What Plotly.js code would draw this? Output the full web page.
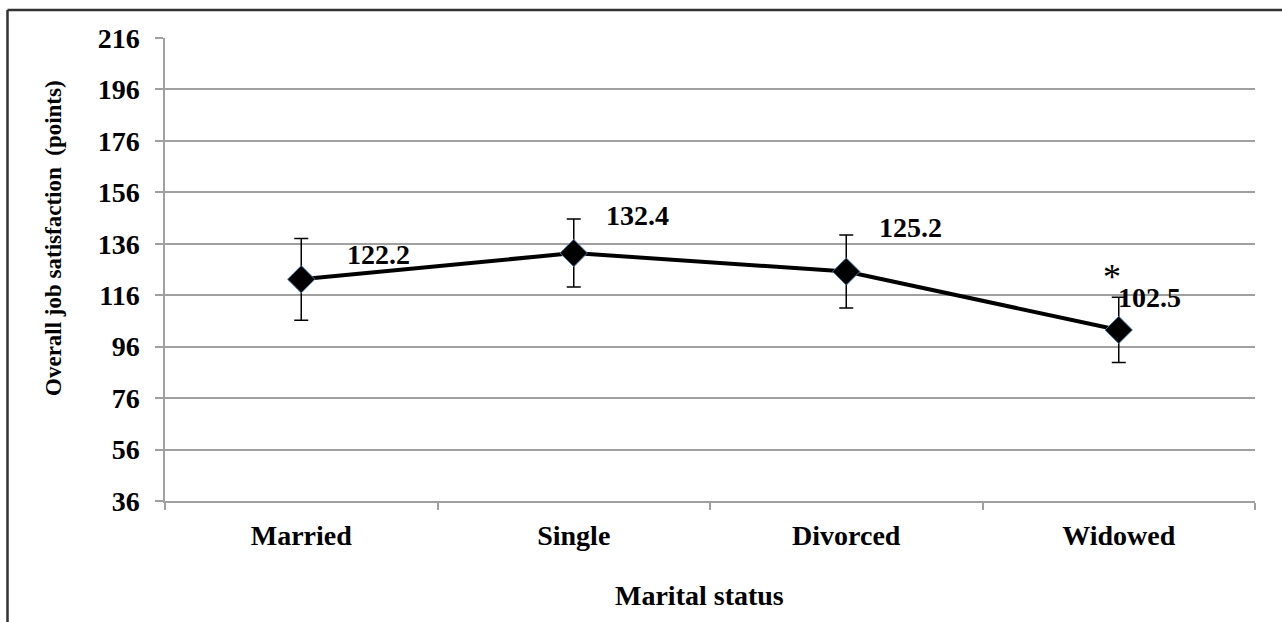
<!DOCTYPE html>
<html>
<head>
<meta charset="utf-8">
<script src="https://cdn.plot.ly/plotly-3.0.1.min.js"></script>
</head>
<body style="margin:0;background:#ffffff">
<div id="chart" style="width:1282px;height:622px"></div>
<script>
const categories = ["Married", "Single", "Divorced", "Widowed"];
const meanValues = [122.2, 132.4, 125.2, 102.5];
const errorValues = [15.9, 13.2, 14.2, 12.7];
const valueLabels = ["122.2", "132.4", "125.2", "102.5"];
const yTickValues = [36, 56, 76, 96, 116, 136, 156, 176, 196, 216];
const significanceMarks = ["", "", "", "*"];
const xTitle = "Marital status";
const yTitle = "Overall job satisfaction&nbsp;&nbsp;(points)";

const FAM = 'Liberation Serif';

const trace = {
  type: 'scatter',
  mode: 'lines+markers',
  x: categories,
  y: meanValues,
  line: { color: '#000000', width: 4 },
  marker: { symbol: 'diamond', size: 21, color: '#000000', line: { color: '#4a78a8', width: 1 } },
  error_y: { type: 'data', array: errorValues, visible: true, color: '#000000', thickness: 1.5, width: 7 },
  hoverinfo: 'skip',
  cliponaxis: false
};

const labelShifts = [[77, 25], [64, 38], [64, 44], [31, 32]];
const annotations = [];
categories.forEach((c, i) => {
  annotations.push({
    x: c, y: meanValues[i], xref: 'x', yref: 'y',
    text: valueLabels[i], showarrow: false,
    xshift: labelShifts[i][0], yshift: labelShifts[i][1],
    font: { family: FAM, size: 28, color: '#000000', weight: 'bold' }
  });
  if (significanceMarks[i]) {
    annotations.push({
      x: c, y: meanValues[i], xref: 'x', yref: 'y',
      text: significanceMarks[i], showarrow: false,
      xshift: -7, yshift: 53,
      font: { family: FAM, size: 36, color: '#000000' }
    });
  }
});
annotations.push({
  xref: 'paper', yref: 'paper', x: 0.4908, y: -0.205,
  text: xTitle, showarrow: false, xanchor: 'center', yanchor: 'middle',
  font: { family: FAM, size: 28, color: '#000000', weight: 'bold' }
});
annotations.push({
  xref: 'paper', yref: 'paper', x: -0.1028, y: 0.568,
  text: yTitle, showarrow: false, textangle: -90, xanchor: 'center', yanchor: 'middle',
  font: { family: FAM, size: 23, color: '#000000', weight: 'bold' }
});

const layout = {
  width: 1282, height: 622,
  margin: { l: 165, r: 27, t: 38, b: 121, pad: 0 },
  paper_bgcolor: '#ffffff', plot_bgcolor: '#ffffff',
  showlegend: false,
  xaxis: {
    type: 'category',
    range: [-0.5, 3.5],
    tickson: 'boundaries',
    ticks: 'outside', ticklen: 7, tickwidth: 1.5, tickcolor: '#a0a0a0',
    showline: true, linecolor: '#a0a0a0', linewidth: 1.5,
    showgrid: false, zeroline: false,
    tickfont: { family: FAM, size: 28, color: '#000000', weight: 'bold' },
    ticklabelstandoff: 9
  },
  yaxis: {
    range: [36, 216],
    tickvals: yTickValues,
    ticktext: yTickValues.map(String),
    ticks: 'outside', ticklen: 8, tickwidth: 1.5, tickcolor: '#a0a0a0',
    showline: true, linecolor: '#a0a0a0', linewidth: 1.5,
    showgrid: true, gridcolor: '#a0a0a0', gridwidth: 1.5,
    zeroline: false,
    tickfont: { family: FAM, size: 28, color: '#000000', weight: 'bold' },
    ticklabelstandoff: 10
  },
  annotations: annotations,
  shapes: [
    { type: 'line', xref: 'paper', yref: 'paper', x0: -0.1445, x1: 1.1, y0: 1.0605, y1: 1.0605, line: { color: '#333333', width: 2.5 } },
    { type: 'line', xref: 'paper', yref: 'paper', x0: -0.1445, x1: -0.1445, y0: 1.0605, y1: -0.3, line: { color: '#333333', width: 2.5 } }
  ]
};

Plotly.newPlot('chart', [trace], layout, { displayModeBar: false });
</script>
</body>
</html>
